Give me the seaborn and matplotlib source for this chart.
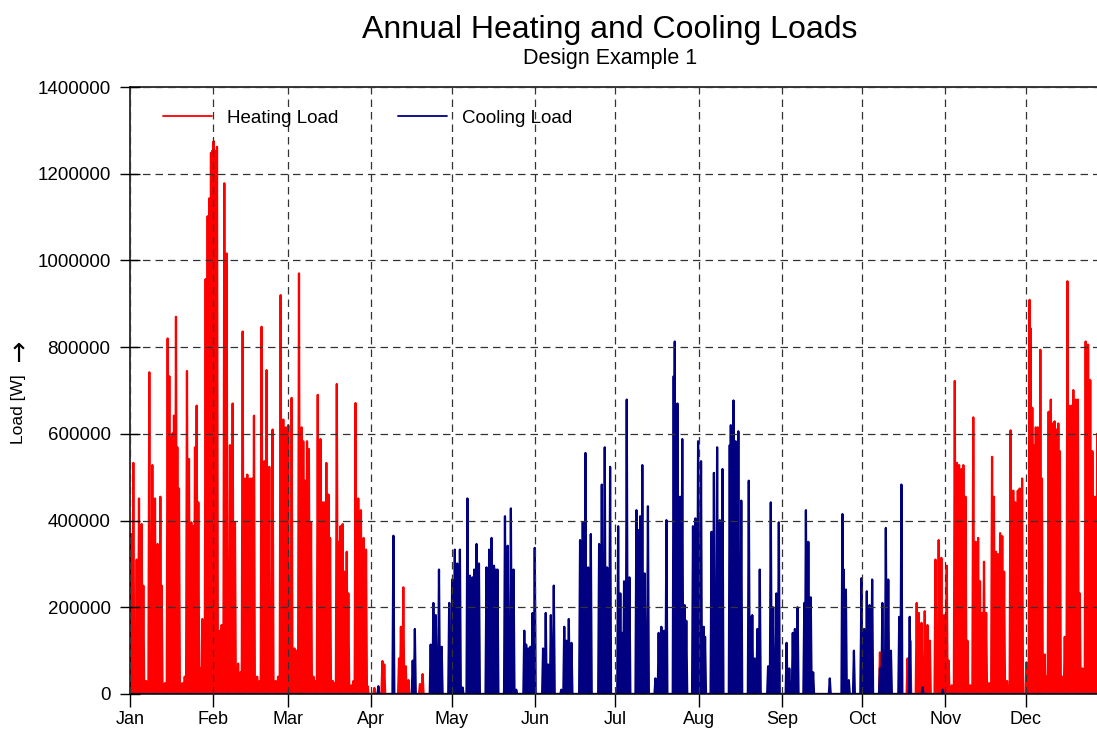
import matplotlib
matplotlib.use("Agg")
import matplotlib.pyplot as plt
import pandas as pd
import seaborn as sns

# spike peaks: day of year and load in kW
heating_day = [
    0.37, 1.24, 2.49, 3.35, 4.35, 4.97, 6.0, 7.2, 8.32, 9.32, 10.31, 11.31, 11.8,
    13.0, 14.04, 14.66, 15.16, 15.9, 16.4, 17.14, 17.64, 18.26, 19.5, 20.4,
    21.24, 21.99, 22.86, 23.6, 24.23, 24.85, 25.47, 26.3, 26.96, 28.2, 28.95,
    29.57, 30.19, 30.69, 31.18, 31.68, 32.43, 33.54, 34.17, 35.16, 36.03, 37.27,
    38.27, 39.13, 40.3, 41.2, 42.0, 42.86, 43.73, 44.73, 45.6, 46.22, 47.4, 48.3,
    49.07, 50.07, 50.94, 51.93, 53.17, 54.3, 55.2, 56.16, 57.15, 58.14, 59.01,
    60.26, 61.3, 62.1, 63.0, 64.0, 64.6, 65.3, 66.0, 66.7, 67.5, 68.4, 69.2,
    70.0, 71.0, 71.8, 72.5, 73.2, 74.0, 74.6, 75.6, 76.3, 77.1, 77.7, 78.5,
    79.3, 79.9, 80.8, 81.4, 82.5, 83.3, 84.1, 85.1, 86.1, 87.1, 88.0, 88.6,
    91.1, 94.1, 94.8, 100.3, 101.0, 101.9, 102.8, 103.8, 108.1, 109.1,
    272.7, 279.6, 283.5, 289.9, 290.9, 293.3, 294.1, 295.1, 296.3, 297.3, 298.2,
    300.3, 301.5, 302.5, 303.5, 304.5, 305.2, 306.4, 307.5, 308.3, 309.1, 310.0,
    310.7, 311.5, 312.2, 313.3, 314.4, 315.3, 316.2, 316.9, 317.7, 318.4, 319.2,
    320.3, 321.4, 322.1, 322.8, 323.5, 324.4, 325.2, 325.9, 327.0, 328.3, 329.3,
    330.1, 331.0, 331.7, 332.6, 334.2, 335.4, 335.8, 336.4, 337.0, 337.7, 338.5,
    339.4, 340.0, 341.0, 341.7, 342.5, 343.3, 343.9, 344.7, 345.4, 346.1, 346.7,
    347.6, 348.5, 349.5, 350.1, 351.0, 351.7, 352.6, 353.4, 354.1, 355.1, 355.7,
    356.3, 357.2, 358.0, 358.8, 359.7, 360.6, 361.5, 362.5, 363.4, 364.3,
]
heating_kw = [
    369, 533, 310, 451, 392, 250, 30, 742, 528, 451, 346, 455, 250,
    25, 820, 733, 592, 601, 642, 870, 569, 474, 25, 40,
    745, 542, 396, 387, 569, 665, 442, 60, 173, 957, 1102,
    1143, 1248, 1253, 1275, 1253, 1262, 146, 159, 1178, 1016, 574,
    670, 396, 70, 50, 836, 497, 506, 497, 497, 642, 40, 30,
    847, 537, 747, 524, 610, 30, 40, 920, 633, 615, 620,
    683, 105, 100, 970, 615, 583, 492, 583, 565, 396, 40, 30,
    690, 588, 442, 442, 533, 460, 360, 30, 25, 715, 351, 387,
    392, 282, 328, 232, 20, 30, 671, 451, 424, 360, 333, 18,
    14, 76, 68, 82, 155, 246, 64, 32, 23, 46,
    187, 96, 25, 82, 123, 210, 187, 164, 191, 159, 123,
    310, 355, 314, 182, 296, 77, 20, 722, 533, 528, 519,
    528, 455, 123, 20, 638, 351, 360, 260, 187, 305, 187,
    25, 547, 455, 328, 323, 371, 364, 282, 30, 608, 469,
    442, 469, 474, 497, 73, 909, 843, 660, 574, 615, 615,
    794, 497, 91, 40, 651, 679, 624, 629, 610, 624, 560,
    40, 132, 952, 665, 665, 701, 679, 679, 232, 59, 40,
    813, 806, 724, 560, 455, 600, 500, 40, 500, 450,
]

cooling_day = [
    92.6, 98.2, 105.4, 106.2, 112.1, 113.1, 114.0, 115.2, 116.2, 119.0, 120.1,
    121.1, 122.0, 123.0, 124.0, 125.8, 126.7, 127.6, 128.3, 129.2, 130.1, 132.9,
    133.9, 134.8, 135.7, 136.4, 137.0, 139.8, 140.8, 142.0, 143.0, 144.0, 147.0,
    147.7, 148.5, 149.3, 150.1, 150.9, 154.0, 155.0, 155.9, 156.9, 158.0, 160.8,
    161.9, 162.7, 163.6, 164.6, 167.8, 168.8, 169.8, 170.8, 171.8, 174.9, 175.9,
    177.0, 177.9, 179.0, 182.0, 182.8, 183.5, 184.2, 185.2, 186.2, 188.8, 189.7,
    190.2, 191.0, 191.9, 193.1, 195.9, 197.1, 198.1, 199.1, 200.0, 202.7, 203.1,
    204.1, 205.1, 205.9, 206.8, 207.4, 209.9, 210.8, 211.8, 212.9, 213.9, 214.4,
    216.8, 217.7, 218.9, 219.9, 220.9, 223.6, 224.0, 225.0, 225.8, 226.8, 227.9,
    230.7, 231.4, 232.0, 232.9, 233.9, 234.8, 237.9, 238.9, 239.8, 241.0, 241.9,
    244.8, 245.8, 247.1, 247.9, 248.9, 251.4, 252.0, 252.9, 253.8, 254.7, 260.9,
    265.6, 266.1, 266.9, 268.0, 269.9, 272.7, 273.7, 274.7, 275.7, 276.7, 279.6,
    280.5, 281.8, 282.7, 283.7, 286.8, 287.6, 290.7, 295.5, 303.0,
]
cooling_kw = [
    18, 365, 77, 150, 114, 210, 182, 287, 109, 210, 264,
    333, 301, 333, 15, 451, 273, 269, 287, 346, 301, 292,
    333, 360, 296, 287, 287, 410, 342, 428, 287, 10, 146,
    114, 105, 109, 187, 337, 105, 187, 68, 182, 250, 10,
    155, 123, 173, 118, 355, 396, 556, 292, 369, 346, 483,
    569, 292, 524, 387, 232, 141, 260, 679, 269, 424, 378,
    410, 528, 278, 433, 36, 141, 155, 146, 401, 733, 813,
    670, 455, 588, 205, 169, 387, 405, 583, 537, 155, 132,
    374, 510, 569, 401, 519, 574, 620, 677, 583, 606, 446,
    492, 178, 182, 82, 150, 287, 64, 442, 200, 232, 396,
    118, 59, 141, 150, 200, 210, 424, 351, 223, 50, 36,
    415, 287, 241, 32, 100, 267, 150, 237, 205, 264, 59,
    210, 383, 264, 100, 178, 483, 178, 15, 10,
]

month_start = [0, 31, 59, 90, 120, 151, 181, 212, 243, 273, 304, 334]
month_names = ["Jan", "Feb", "Mar", "Apr", "May", "Jun",
               "Jul", "Aug", "Sep", "Oct", "Nov", "Dec"]
y_ticks = [0, 200000, 400000, 600000, 800000, 1000000, 1200000, 1400000]


def spike_table(days, kw, name):
    # each reading becomes a narrow spike that falls back to zero
    rows = [(0.0, 0.0)]
    for d, v in zip(days, kw):
        rows += [(d - 0.35, 0.0), (d, v * 1000.0), (d + 0.35, 0.0)]
    rows.append((365.0, 0.0))
    df = pd.DataFrame(rows, columns=["day", "load"])
    df["series"] = name
    return df


data = pd.concat([spike_table(heating_day, heating_kw, "Heating Load"),
                  spike_table(cooling_day, cooling_kw, "Cooling Load")],
                 ignore_index=True)

sns.set_style("ticks")
plt.rcParams["font.family"] = ["Liberation Sans", "DejaVu Sans"]
plt.rcParams.update({"text.color": "black", "axes.labelcolor": "black",
                     "xtick.color": "black", "ytick.color": "black"})

fig = plt.figure(figsize=(10.97, 7.33), dpi=100)
# the plot runs a little past the right edge of the picture, as in the original
ax = fig.add_axes([130 / 1097, 39 / 733, 979 / 1097, 607 / 733])

sns.lineplot(data=data, x="day", y="load", hue="series",
             hue_order=["Heating Load", "Cooling Load"],
             palette={"Heating Load": "#ff0000", "Cooling Load": "#000080"},
             estimator=None, sort=False, lw=1.6, ax=ax)

ax.set_xlim(0, 365)
ax.set_ylim(0, 1400000)
ax.set_xticks(month_start, month_names)
ax.set_yticks(y_ticks)
ax.ticklabel_format(axis="y", style="plain", useOffset=False)
ax.set_xlabel("")
ax.set_ylabel("")

ax.tick_params(axis="x", direction="out", length=9, width=1, pad=3,
               labelsize=13, colors="black")
ax.tick_params(axis="y", direction="inout", length=14, width=1, pad=7,
               labelsize=13.5, colors="black")

ax.grid(True, ls=(0, (6, 4)), color="0.2", lw=0.9)
ax.set_axisbelow(False)
for side in ["left", "top", "bottom"]:
    ax.spines[side].set_visible(True)
    ax.spines[side].set_color("black")
    ax.spines[side].set_linewidth(1.1)
ax.spines["right"].set_visible(False)

handles, labels = ax.get_legend_handles_labels()
for h in handles:
    h.set_linewidth(1.3)
ax.legend(handles, labels, ncol=2, frameon=False, loc="center left",
          bbox_to_anchor=((163 - 130) / 979, (694 - 118) / 607),
          borderpad=0, borderaxespad=0, handlelength=2.6,
          handletextpad=0.8, columnspacing=3.2, fontsize=13.5)

fig.text(610 / 1097, 1 - 38 / 733, "Annual Heating and Cooling Loads",
         ha="center", va="baseline", fontsize=23)
fig.text(610 / 1097, 1 - 64 / 733, "Design Example 1",
         ha="center", va="baseline", fontsize=15.5)
fig.text(19 / 1097, 1 - 409 / 733, "Load [W]", rotation=90,
         ha="center", va="center", fontsize=12.5)
fig.text(19 / 1097, 1 - 355 / 733, "\u2191",
         ha="center", va="center", fontsize=19, family="DejaVu Sans")

fig.savefig("out.png", dpi=100)
